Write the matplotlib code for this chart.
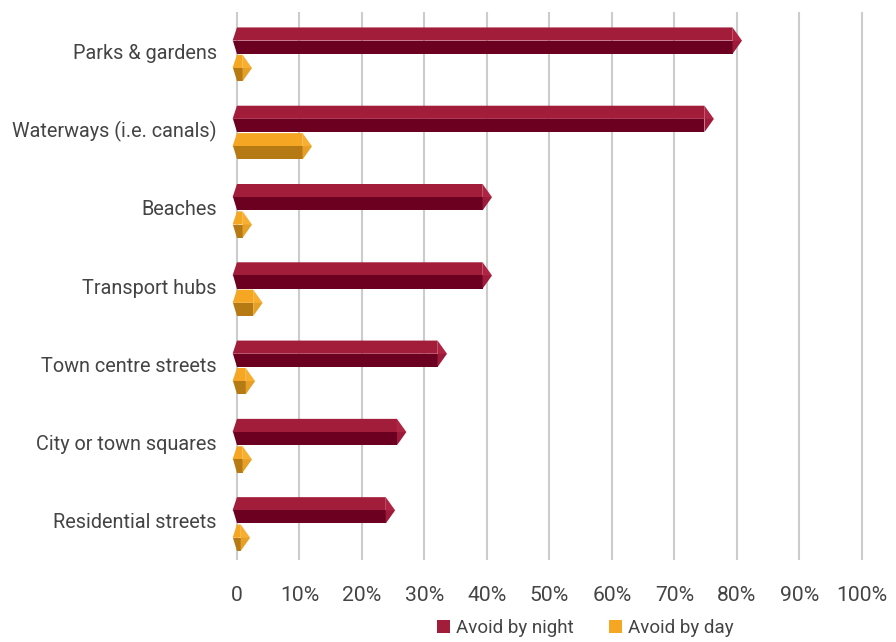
import numpy as np
import matplotlib.pyplot as plt
from matplotlib.patches import Polygon, Patch

plt.rcParams['font.family'] = ['Roboto', 'DejaVu Sans']

# data
categories = ["Parks & gardens", "Waterways (i.e. canals)", "Beaches", "Transport hubs",
              "Town centre streets", "City or town squares", "Residential streets"]
night = [80, 75.5, 40, 40, 32.8, 26.3, 24.5]
day = [1.6, 11.2, 1.6, 3.3, 2.1, 1.6, 1.3]
ticks = np.arange(0, 101, 10)
tick_labels = ["0"] + [f"{t}%" for t in ticks[1:]]

# colours: (top face, bottom face, end cap)
night_cols = ("#a21d3a", "#6c0020", "#b02443")
day_cols = ("#f5a623", "#b67a14", "#f8ae2e")


def prism(ax, y, v, half, cols, d=0.7, cap=1.5):
    # fake 3d bar: hexagonal prism seen from the side
    top, bot = y - half, y + half
    r = max(v + 0.8 - cap, 0.2)
    ax.add_patch(Polygon([(-d, y), (0, top), (r, top), (r, y)], closed=True,
                         fc=cols[0], ec="none", zorder=3))
    ax.add_patch(Polygon([(-d, y), (r, y), (r, bot), (0, bot)], closed=True,
                         fc=cols[1], ec="none", zorder=3))
    ax.add_patch(Polygon([(r, top), (r + cap, y), (r, bot)], closed=True,
                         fc=cols[2], ec="none", zorder=3))
    ax.add_patch(Polygon([(r, y), (r + cap, y), (r, bot)], closed=True,
                         fc=cols[1], ec="none", alpha=0.25, zorder=3))


fig = plt.figure(figsize=(8.96, 6.42), dpi=100)
ax = fig.add_axes([0.2575, 0.1277, 0.7115, 0.8536])

ypos = np.arange(len(categories))
half = 0.168
for i in ypos:
    prism(ax, i - 0.135, night[i], half, night_cols)
    prism(ax, i + 0.215, day[i], half, day_cols)

ax.set_xlim(-1, 101)
ax.set_ylim(6.5, -0.5)
ax.set_xticks(ticks)
ax.set_xticklabels(tick_labels)
ax.set_yticks(ypos)
ax.set_yticklabels(categories)
ax.grid(axis="x", color="#cccccc", linewidth=1.5, zorder=0)
ax.set_axisbelow(True)
for s in ax.spines.values():
    s.set_visible(False)
ax.tick_params(axis="both", length=0, labelcolor="#444444")
ax.tick_params(axis="x", pad=19, labelsize=15.2)
ax.tick_params(axis="y", pad=10, labelsize=14.3)

handles = [Patch(fc=night_cols[0], label="Avoid by night"),
           Patch(fc=day_cols[0], label="Avoid by day")]
fig.legend(handles=handles, loc="center", bbox_to_anchor=(585 / 896, 1 - 628 / 642),
           ncol=2, frameon=False, fontsize=13.5, handlelength=0.7, handleheight=0.7,
           handletextpad=0.3, columnspacing=1.9, labelcolor="#444444")

fig.savefig("out.png", dpi=100)
